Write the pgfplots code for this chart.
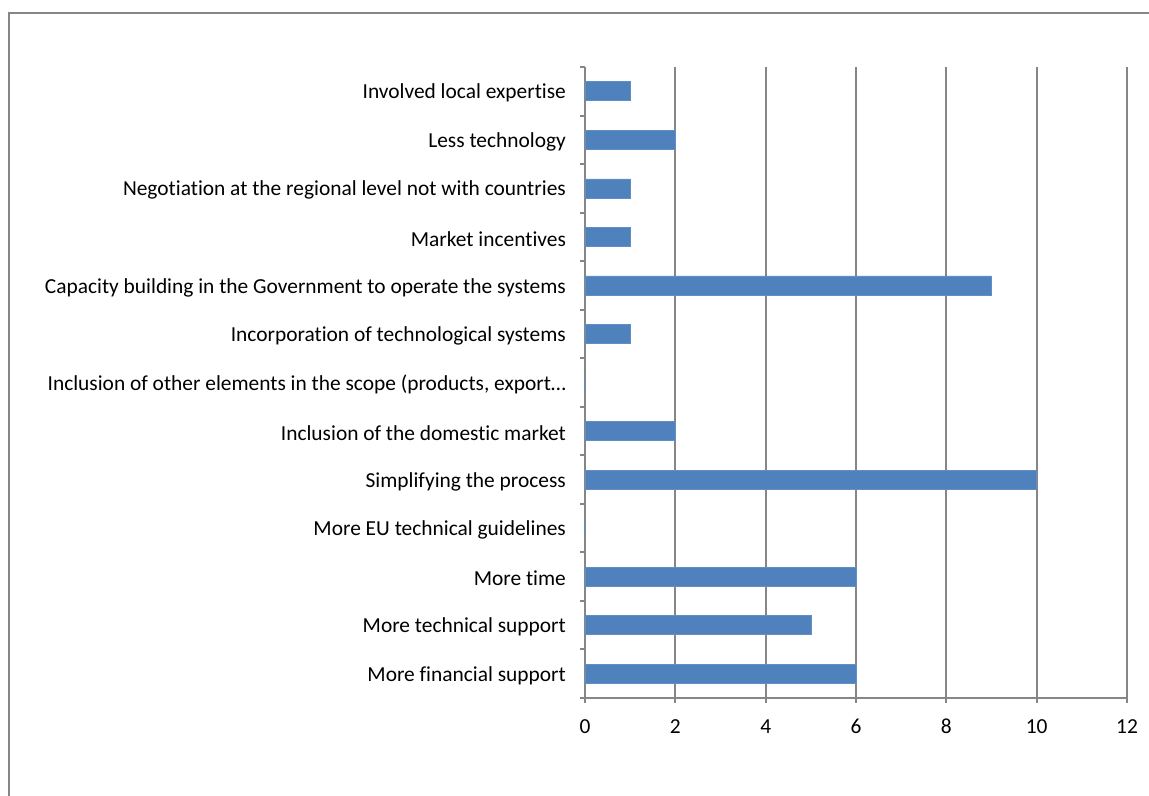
\documentclass[border=0pt]{standalone}
\usepackage{pgfplots}
\pgfplotsset{compat=1.18}
\usepackage{fontspec}
\setmainfont{Carlito}[Ligatures={NoCommon}]
\definecolor{barblue}{HTML}{4F81BD}
\definecolor{axgray}{HTML}{868686}
\begin{document}
\fontsize{10.7pt}{12pt}\selectfont
\begin{tikzpicture}
\useasboundingbox (0,0) rectangle (574.5pt,398pt);
\draw[axgray, line width=1pt] (4.5pt,-2pt) -- (4.5pt,391.5pt) -- (580pt,391.5pt);
\begin{axis}[
  at={(292.5pt,49pt)}, anchor=south west,
  scale only axis, width=271pt, height=315.5pt,
  xbar, bar width=9.5pt,
  xmin=0, xmax=12, ymin=-0.5, ymax=12.5,
  xtick={0,2,...,12},
  ytick={-0.5,0.5,1.5,2.5,3.5,4.5,5.5,6.5,7.5,8.5,9.5,10.5,11.5,12.5},
  yticklabels={},
  extra y ticks={0,1,2,3,4,5,6,7,8,9,10,11,12},
  extra y tick labels={More financial support,More technical support,More time,More EU technical guidelines,Simplifying the process,Inclusion of the domestic market,{Inclusion of other elements in the scope (products, export…},Incorporation of technological systems,Capacity building in the Government to operate the systems,Market incentives,Negotiation at the regional level not with countries,Less technology,Involved local expertise},
  extra y tick style={major tick length=0pt, grid=none, yticklabel style={xshift=-5.8pt, yshift=-1pt}},
  tick align=outside, major tick length=2.5pt,
  axis x line*=bottom, axis y line*=left,
  axis line style={axgray, line width=1pt, -},
  tick style={axgray, line width=1pt},
  xmajorgrids, ymajorgrids=false,
  grid style={axgray, line width=1pt},
  xticklabel style={yshift=-4pt, text height=0.68em, text depth=0pt},
  /pgf/number format/assume math mode=true,
  ticklabel style={font=\fontsize{10.7pt}{12pt}\selectfont, text=black},
]
\addplot[draw=barblue!90!white, fill=barblue, line width=0.3pt] coordinates {
(6,0) (5,1) (6,2) (0,3) (10,4) (2,5) (0,6) (1,7) (9,8) (1,9) (1,10) (2,11) (1,12)
};
\end{axis}
\end{tikzpicture}
\end{document}
